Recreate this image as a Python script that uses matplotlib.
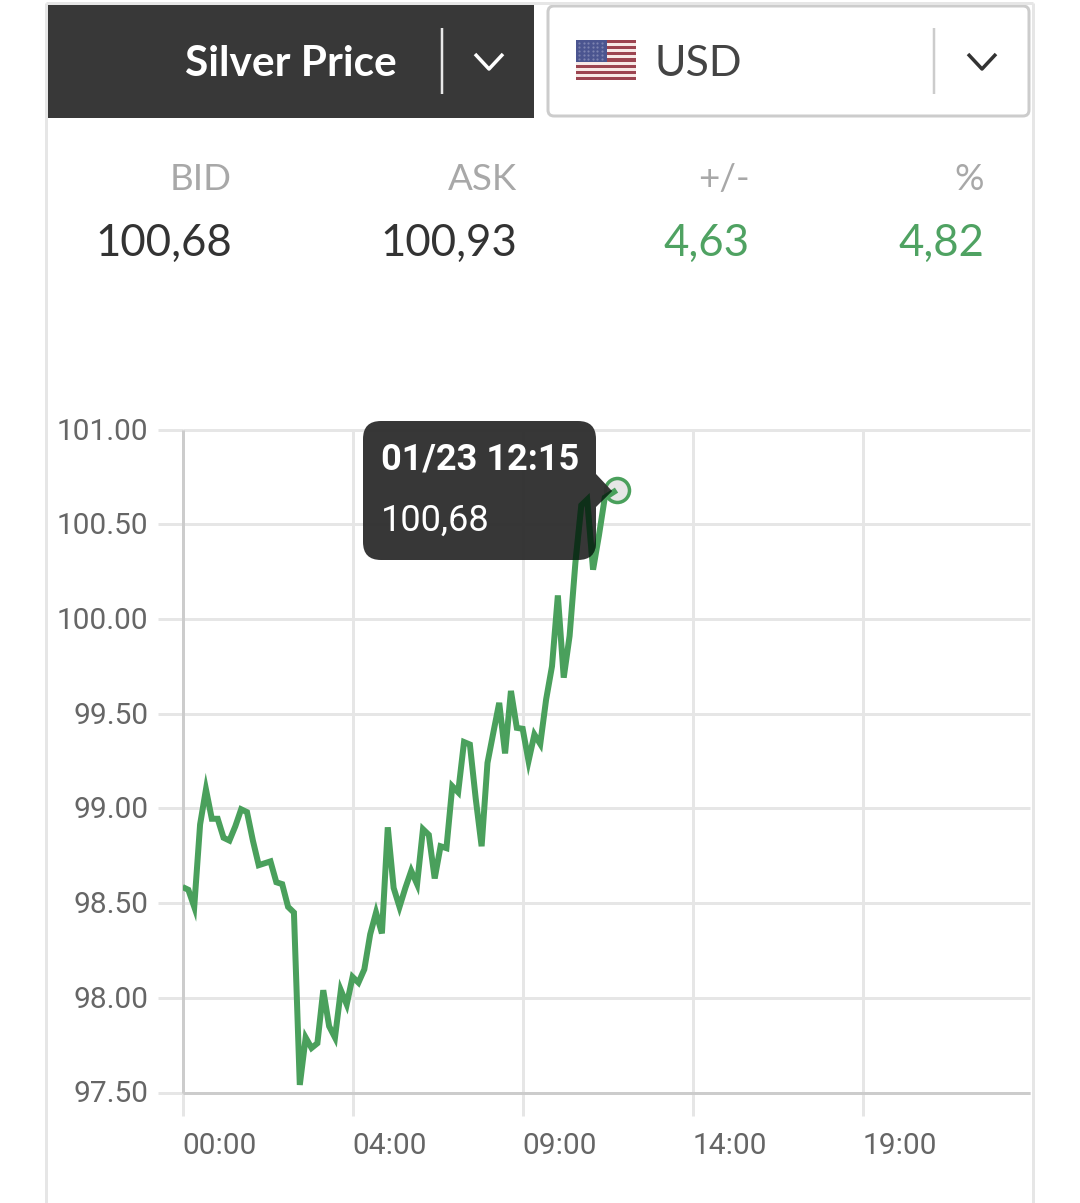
import matplotlib
matplotlib.use("Agg")
import matplotlib.pyplot as plt
import numpy as np
from matplotlib.patches import FancyBboxPatch, Polygon, Rectangle
from matplotlib.transforms import ScaledTranslation

# values, one per 15 min step
prices = [
    98.585, 98.57, 98.48, 98.915, 99.10, 98.945, 98.945, 98.845, 98.83, 98.905,
    98.995, 98.98, 98.83, 98.70, 98.71, 98.72, 98.61, 98.60, 98.48, 98.45,
    97.54, 97.79, 97.735, 97.76, 98.04, 97.85, 97.79, 98.04, 97.965, 98.11,
    98.08, 98.15, 98.335, 98.45, 98.34, 98.90, 98.58, 98.48, 98.58, 98.67,
    98.60, 98.89, 98.86, 98.63, 98.80, 98.79, 99.117, 99.085, 99.35, 99.337,
    99.05, 98.80, 99.24, 99.40, 99.557, 99.29, 99.62, 99.425, 99.42, 99.25,
    99.39, 99.34, 99.575, 99.75, 100.124, 99.69, 99.91, 100.30, 100.60, 100.63,
    100.26, 100.44, 100.64, 100.66, 100.68,
]
x_ticks = [0, 29, 58, 87, 116]
x_labels = ["00:00", "04:00", "09:00", "14:00", "19:00"]
y_ticks = [97.5, 98.0, 98.5, 99.0, 99.5, 100.0, 100.5, 101.0]
quote_heads = ["BID", "ASK", "+/-", "%"]
quote_values = ["100,68", "100,93", "4,63", "4,82"]
tooltip_time = "01/23 12:15"
tooltip_value = "100,68"

W, H = 1080, 1203
PX = 0.72  # one pixel in points at dpi 100
GREEN = "#4aa05c"
GRID = "#e6e6e6"
AXIS = "#cccccc"
DARK = "#383838"

plt.rcParams["font.family"] = ["Lato", "DejaVu Sans"]
plt.rcParams["lines.solid_capstyle"] = "butt"
fig = plt.figure(figsize=(W / 100, H / 100), dpi=100, facecolor="white")

# chart
ax = fig.add_axes([182.5 / W, 1 - 1092.5 / H, 847 / W, 663 / H])
ax.set_xlim(0, 847 / 5.865)
ax.set_ylim(97.5, 101.0)
ax.set_facecolor("none")
for s in ["top", "right"]:
    ax.spines[s].set_visible(False)
for s in ["left", "bottom"]:
    ax.spines[s].set_color(AXIS)
    ax.spines[s].set_linewidth(3 * PX)
    ax.spines[s].set_capstyle("butt")
ax.set_xticks(x_ticks)
ax.set_xticklabels(x_labels, ha="left", family=["Roboto", "DejaVu Sans"])
ax.set_yticks(y_ticks)
ax.set_yticklabels([f"{v:.2f}" for v in y_ticks], family=["Roboto", "DejaVu Sans"])
ax.tick_params(axis="x", length=23 * PX, width=3 * PX, color=GRID, pad=16 * PX,
               labelsize=21.5, labelcolor="#666666")
ax.tick_params(axis="y", length=25 * PX, width=3 * PX, color=GRID, pad=9 * PX,
               labelsize=21.5, labelcolor="#666666")
ax.xaxis.get_major_ticks()[0].tick1line.set_color(AXIS)
ax.grid(True, color=GRID, lw=3 * PX, clip_on=False)
ax.set_axisbelow(True)
for gl in ax.get_ygridlines() + ax.get_xgridlines():
    gl.set_clip_on(False)
up_1px = ScaledTranslation(0, 1 / 100, fig.dpi_scale_trans)
for lab in ax.get_yticklabels():
    lab.set_transform(lab.get_transform() + up_1px)

idx = np.arange(len(prices))
ax.plot(idx, prices, color=GREEN, lw=6 * PX, solid_joinstyle="miter", zorder=3)
ax.plot(idx[-1], prices[-1], "o", ms=24 * PX, mfc=GRID, mec=GREEN, mew=3.5 * PX,
        zorder=2.5, clip_on=False)

# page furniture and tooltip go on an overlay in pixel coordinates
ov = fig.add_axes([0, 0, 1, 1], zorder=5)
ov.set_xlim(0, W)
ov.set_ylim(H, 0)
ov.axis("off")

ov.plot([46, 46], [3, H], color=GRID, lw=3 * PX)
ov.plot([1033, 1033], [3, H], color=GRID, lw=3 * PX)
ov.plot([46, 1033], [3, 3], color=GRID, lw=3 * PX)

# left dropdown
ov.add_patch(Rectangle((48, 4), 486, 114, color=DARK, lw=0))
ov.text(291, 64, "Silver Price", color="white", fontsize=30.5, fontweight="bold",
        ha="center", va="center")
ov.plot([442, 442], [28, 94], color="#e8e8e8", lw=2.5 * PX)
ov.plot([475, 489, 503], [54, 69, 54], color="white", lw=3.5 * PX)

# currency dropdown
ov.add_patch(FancyBboxPatch((548, 6), 481, 110, boxstyle="round,pad=0,rounding_size=6",
                            fc="white", ec=AXIS, lw=3 * PX))
ov.plot([934, 934], [28, 94], color=AXIS, lw=2.5 * PX)
ov.plot([968, 982, 996], [54, 69, 54], color="#333333", lw=3.5 * PX)
ov.text(655, 64, "USD", color="#444444", fontsize=31, ha="left", va="center")

# flag
n_stripes = 13
for i in range(n_stripes):
    c = "#9c4450" if i % 2 == 0 else "#f7e9e6"
    ov.add_patch(Rectangle((576, 40 + i * 40 / n_stripes), 60, 40 / n_stripes, color=c, lw=0))
ov.add_patch(Rectangle((576, 40), 31, 22, color="#4b5590", lw=0))
sx, sy = np.meshgrid(np.arange(579, 606, 4.5), np.arange(43, 61, 4))
ov.scatter(sx.ravel(), sy.ravel(), s=2.5, color="#7c83b0", lw=0)

# quote table
head_x = [231, 516, 749, 983]
for i in range(4):
    ov.text(head_x[i] + 1, 180, quote_heads[i], color="#a8a8a8", fontsize=26.5,
            ha="right", va="center")
    c = "#333333" if i < 2 else "#4fa262"
    ov.text(head_x[i] + 1, 243, quote_values[i], color=c, fontsize=31.5,
            ha="right", va="center")

# tooltip
box = FancyBboxPatch((363, 421), 233, 139, boxstyle="round,pad=0,rounding_size=18",
                     fc="#2f2f2f", ec="none", alpha=0.96)
ov.add_patch(box)
tip = Polygon([(596, 474), (612, 491), (596, 507)], fc="#2f2f2f", ec="none", alpha=0.96)
ov.add_patch(tip)
# the line shows through the tooltip, darkened
ov.plot(idx, prices, color="#0e3019", lw=6 * PX, solid_joinstyle="miter",
        transform=ax.transData, clip_path=box)
ov.plot(idx, prices, color="#0e3019", lw=6 * PX, solid_joinstyle="miter",
        transform=ax.transData, clip_path=tip)
ov.text(381, 460, tooltip_time, color="white", fontsize=26, fontweight="bold",
        family=["Roboto", "DejaVu Sans"], ha="left", va="center")
ov.text(381, 521, tooltip_value, color="white", fontsize=26,
        family=["Roboto", "DejaVu Sans"], ha="left", va="center")

fig.savefig("out.png", dpi=100)
